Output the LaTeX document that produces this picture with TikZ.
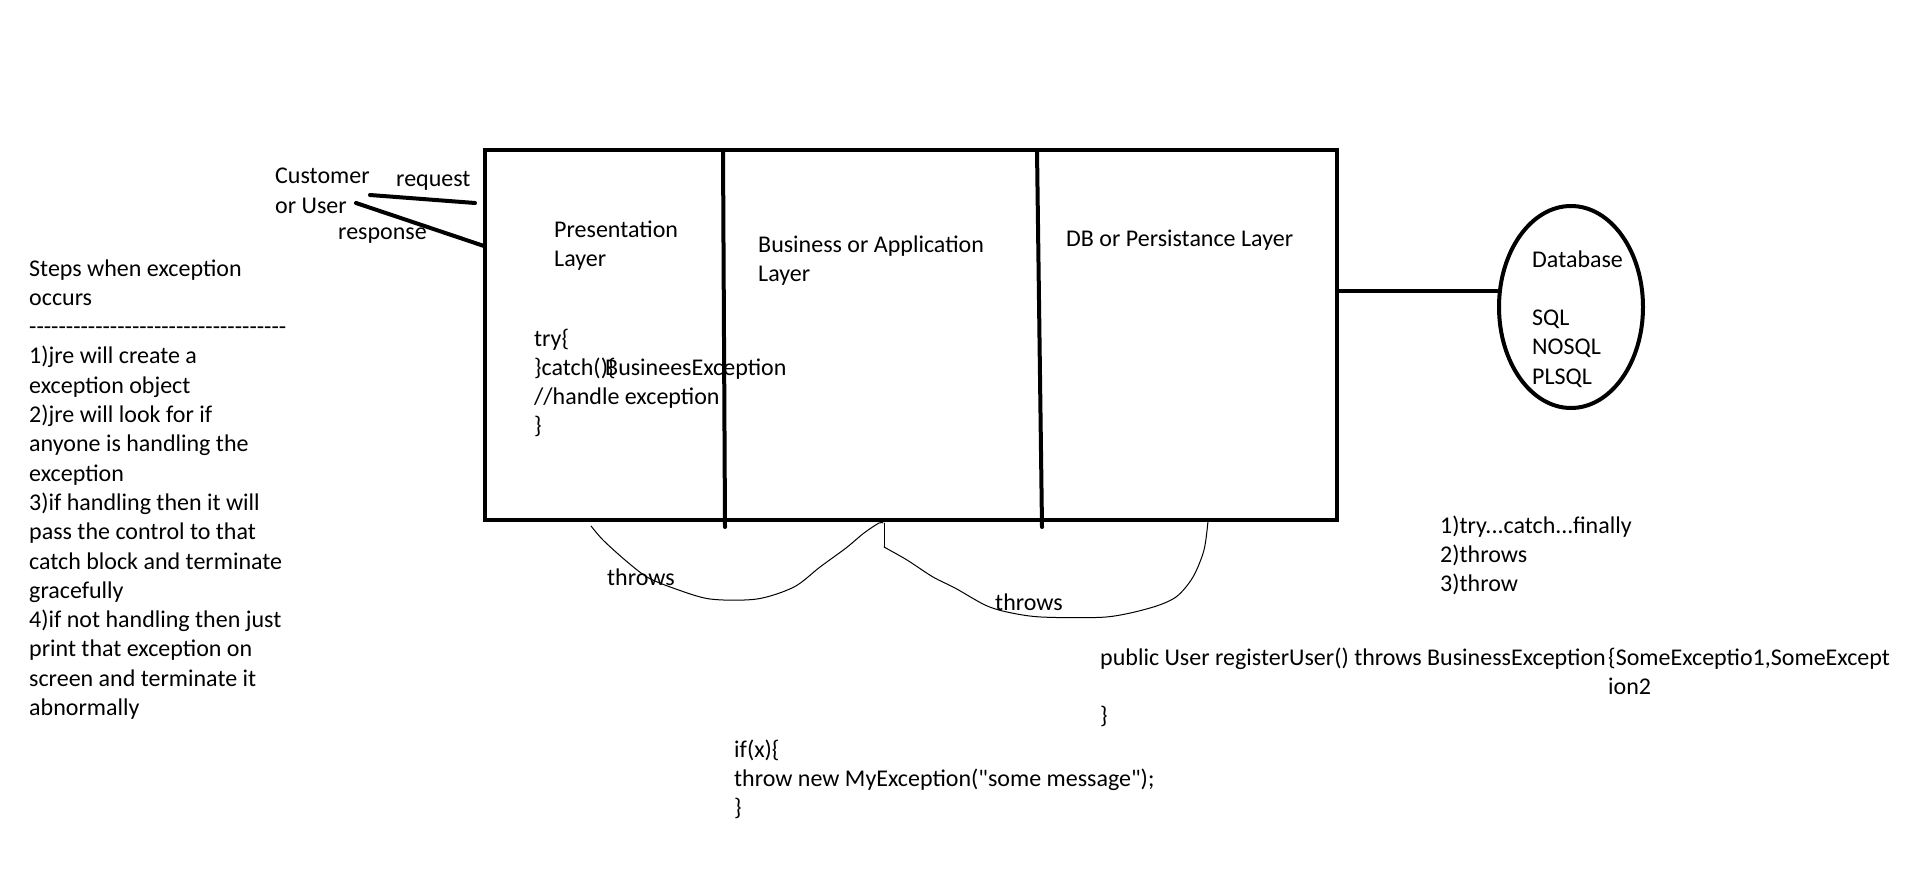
\documentclass[tikz,border=0pt]{standalone}
\usepackage{fontspec}
\newfontfamily\calfont{Carlito}
\usetikzlibrary{shapes.geometric}

\begin{document}
\begin{tikzpicture}[x=1pt,y=-1pt,line cap=round]
    \tikzstyle{txt}=[font=\calfont\fontsize{24}{29.3}\selectfont, inner sep=0pt, align=left, anchor=base west]
    \tikzstyle{thick line}=[line width=4pt]
    \tikzstyle{layer box}=[draw, line width=4.5pt, minimum width=852pt, minimum height=370pt, inner sep=0pt, outer sep=0pt]
    \tikzstyle{divider}=[line width=4pt]
    \tikzstyle{db shape}=[ellipse, draw, line width=4pt, minimum width=144pt, minimum height=202pt, inner sep=0pt]
    \tikzstyle{hand}=[line width=1pt]
    \fill[white] (0,0) rectangle (1914,869);
    \useasboundingbox (0,0) rectangle (1914,869);
    % Draw the layers box and the database
    \node[layer box] (layers) at (911,335) {};
    \foreach \xt / \xb in {723/725, 1037/1042}
        \draw[divider] (\xt,150) -- (\xb,527);
    \node[db shape] (db) at (1571,307) {};
    % Label the layers (base of a node = its last line)
    \node[txt] (pres) at (554,{237+29.3}) {Presentation\\Layer};
    \node[txt] (busi) at (758,{252+29.3}) {Business or Application\\Layer};
    \node[txt] (dbl) at (1066,247) {DB or Persistance Layer};
    \node[txt] (trycatch) at (534,{346+3*29.3}) {try\{\\\}catch()\{\\//handle exception\\\}};
    \node[txt] (bexc) at (605,375) {BusineesException};
    \node[txt] (dbtext) at (1532,{267+4*29.3}) {Database\\\mbox{}\\SQL\\NOSQL\\PLSQL};
    % Customer and its lines
    \node[txt] (user) at (275,{184+29.3}) {Customer\\or User};
    \node[txt] (req) at (396,187) {request};
    \node[txt] (resp) at (338,240) {response};
    \coordinate (req-a) at (370,195);
    \coordinate (req-b) at (475,203);
    \coordinate (resp-a) at (356,203);
    \coordinate (resp-b) at (484,246);
    \coordinate (link-a) at (1339,291);
    \draw[thick line] (req-a) -- (req-b);
    \draw[thick line] (resp-a) -- (resp-b);
    \draw[thick line] (link-a) -- (link-a -| db.west);
    % throws curves
    \draw[hand] plot[smooth] coordinates {(591,526) (603,540) (625,560) (647,577) (673,588) (710,599) (757,599) (794,587) (820,567) (846,548) (864,533) (879,523) (883,523)};
    \draw[hand] (884,523) -- (884,547);
    \draw[hand] plot[smooth] coordinates {(884,547) (907,560) (933,577) (955,588) (985,605) (1007,612) (1041,617) (1106,617) (1150,608) (1176,597) (1193,577) (1204,550) (1208,521)};
    \node[txt] (thr1) at (607,585) {throws};
    \node[txt] (thr2) at (995,610) {throws};
    % Notes
    \node[txt] (steps) at (29,{276+15*29.3}) {Steps when exception\\occurs\\-----------------------------------\\1)jre will create a\\exception object\\2)jre will look for if\\anyone is handling the\\exception\\3)if handling then it will\\pass the control to that\\catch block and terminate\\gracefully\\4)if not handling then just\\print that exception on\\screen and terminate it\\abnormally};
    \node[txt] (ways) at (1440,{533+2*29.3}) {1)try...catch...finally\\2)throws\\3)throw};
    \node[txt] (sig) at (1100,{665+2*29.3}) {public User registerUser() throws BusinessException\\\mbox{}\\\}};
    \node[txt] (sigexc) at (1608,{665+29.3}) {\{SomeExceptio1,SomeExcept\\ion2};
    \node[txt] (ifx) at (734,{757+2*29.3}) {if(x)\{\\throw new MyException("some message");\\\}};
\end{tikzpicture}
\end{document}
